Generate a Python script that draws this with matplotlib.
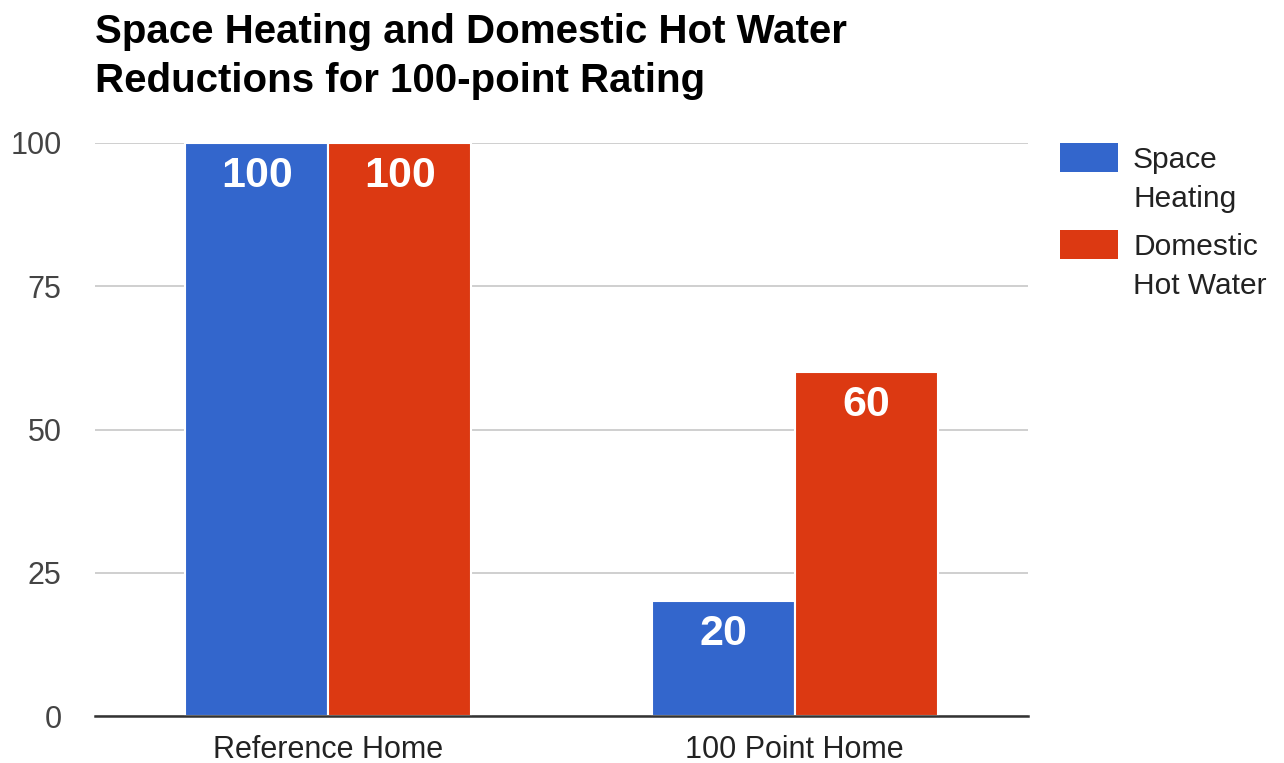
import matplotlib
matplotlib.use("Agg")
import matplotlib.pyplot as plt
import numpy as np
from matplotlib.patches import Rectangle

categories = ["Reference Home", "100 Point Home"]
series_names = ["Space\nHeating", "Domestic\nHot Water"]
space_heating = [100, 20]
hot_water = [100, 60]
yticks = [0, 25, 50, 75, 100]
colors = ["#3366CC", "#DC3912"]
title = "Space Heating and Domestic Hot Water\nReductions for 100-point Rating"

plt.rcParams['font.family'] = ['Liberation Sans', 'DejaVu Sans']

W, H = 1284, 763
fig = plt.figure(figsize=(W / 100, H / 100), dpi=100)
ax = fig.add_axes([95 / W, 1 - 716 / H, (1028 - 95) / W, (716 - 143) / H])

x = np.arange(len(categories))
bw = 0.307
all_series = [space_heating, hot_water]
offsets = [-bw / 2, bw / 2]
for vals, off, c in zip(all_series, offsets, colors):
    bars = ax.bar(x + off, vals, width=bw, color=c, edgecolor="white", linewidth=1.5, zorder=3)
    for b, v in zip(bars, vals):
        ax.annotate(str(v), (b.get_x() + b.get_width() / 2, v), xytext=(0, -33),
                    textcoords="offset pixels", ha="center", va="center",
                    color="white", fontsize=31, fontweight="bold", zorder=4)

ax.set_xlim(-0.5, len(categories) - 0.5)
ax.set_ylim(0, 100)
ax.set_yticks(yticks)
ax.set_yticklabels([str(t) for t in yticks], fontsize=22, color="#444444")
ax.set_xticks(x)
ax.set_xticklabels(categories, fontsize=22, color="#222222")
ax.tick_params(axis="both", length=0)
ax.tick_params(axis="y", pad=24)
ax.tick_params(axis="x", pad=13.5)
ax.grid(axis="y", color="#cccccc", linewidth=1.3, zorder=0)
for s in ["top", "right", "left"]:
    ax.spines[s].set_visible(False)
ax.spines["bottom"].set_color("#333333")
ax.spines["bottom"].set_linewidth(1.8)
ax.spines["bottom"].set_zorder(5)

fig.text(95 / W, 1 - 92 / H, title, fontsize=29, fontweight="bold", ha="left",
         va="baseline", linespacing=1.36, color="black")

# legend
leg_tops = [143, 230]
for name, c, top in zip(series_names, colors, leg_tops):
    fig.patches.append(Rectangle((1060 / W, 1 - (top + 29) / H), 58 / W, 29 / H,
                                 transform=fig.transFigure, facecolor=c, edgecolor="none"))
    fig.text(1133 / W, 1 - (top + 3) / H, name, fontsize=21.5, color="#222222",
             ha="left", va="top", linespacing=1.5)

fig.savefig("out.png", dpi=100, facecolor="white")
